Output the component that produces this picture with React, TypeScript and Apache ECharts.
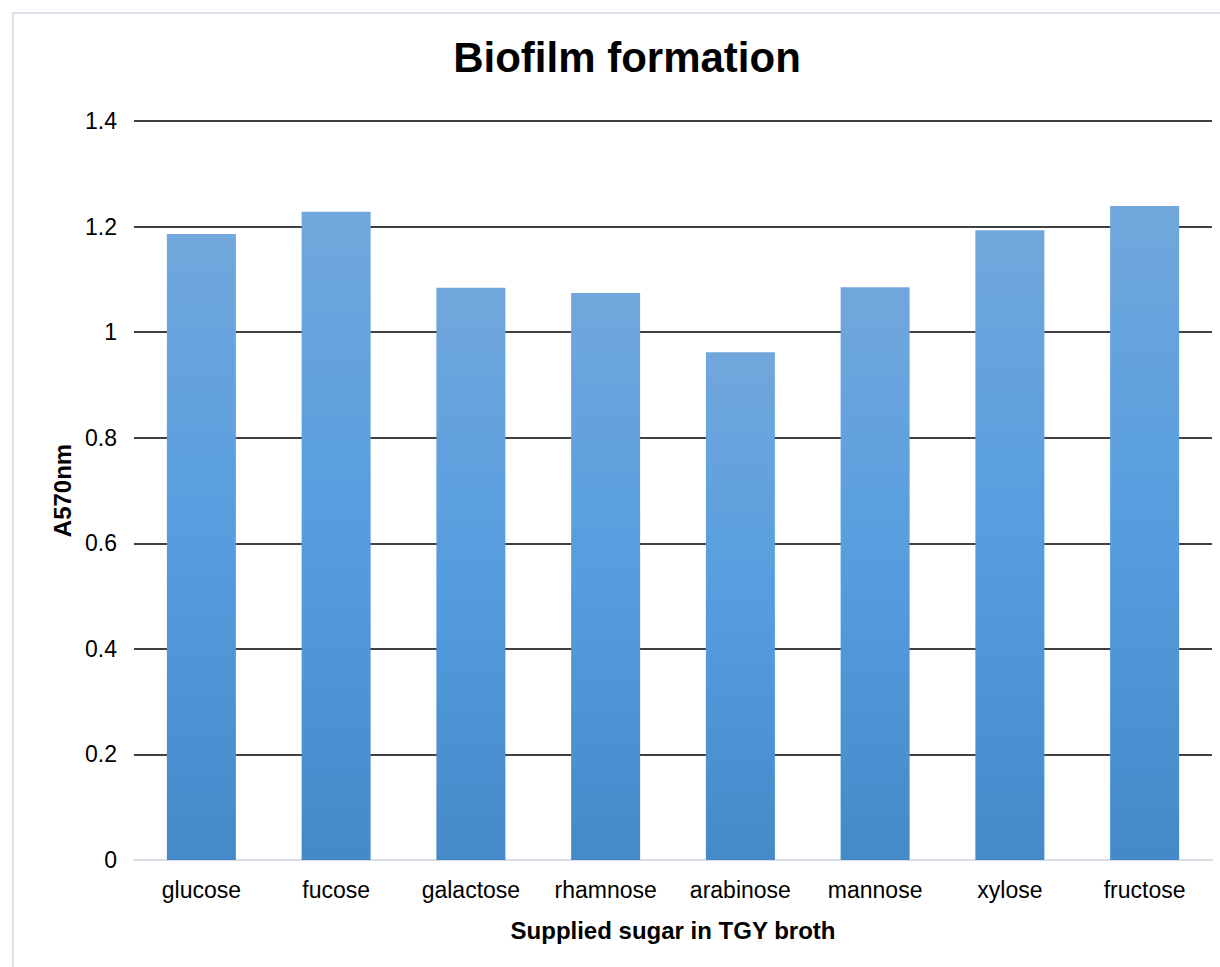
import React, { useEffect, useRef } from "react";
import * as echarts from "echarts";

const categories = ["glucose", "fucose", "galactose", "rhamnose", "arabinose", "mannose", "xylose", "fructose"];
const values = [1.186, 1.228, 1.084, 1.074, 0.962, 1.085, 1.193, 1.239];
const titleText = "Biofilm formation";
const xName = "Supplied sugar in TGY broth";
const yName = "A570nm";

export default function App() {
  const ref = useRef<HTMLDivElement>(null);
  useEffect(() => {
    if (!ref.current) return;
    const chart = echarts.init(ref.current, undefined, { renderer: "svg" });
    chart.setOption({
      animation: false,
      backgroundColor: "#ffffff",
      textStyle: { fontFamily: "'Liberation Sans', Arial, sans-serif" },
      title: {
        text: titleText,
        left: 622,
        top: 31,
        textAlign: "center",
        textStyle: { fontSize: 42, fontWeight: "bold", color: "#000", fontFamily: "'Liberation Sans', Arial, sans-serif" },
      },
      graphic: [
        {
          type: "rect",
          shape: { x: 13, y: 13, width: 1400, height: 1100 },
          style: { fill: "none", stroke: "#dde2ea", lineWidth: 2 },
          silent: true,
        },
      ],
      grid: { left: 134, right: 8, top: 121, bottom: 107, containLabel: false },
      xAxis: {
        type: "category",
        data: categories,
        name: xName,
        nameLocation: "middle",
        nameGap: 70,
        nameTextStyle: { fontSize: 24, fontWeight: "bold", color: "#000", verticalAlign: "middle" },
        axisLine: { show: true, lineStyle: { color: "#d9dde5", width: 2 } },
        axisTick: { show: false },
        axisLabel: { fontSize: 23, color: "#000", margin: 18 },
      },
      yAxis: {
        type: "value",
        min: 0,
        max: 1.4,
        interval: 0.2,
        name: yName,
        nameLocation: "middle",
        nameGap: 72,
        nameRotate: 90,
        nameTextStyle: { fontSize: 24, fontWeight: "bold", color: "#000", verticalAlign: "middle" },
        axisLine: { show: false },
        axisTick: { show: false },
        axisLabel: {
          fontSize: 23,
          color: "#000",
          margin: 17,
          formatter: (v: number) => String(Math.round(v * 10) / 10),
        },
        splitLine: { show: true, lineStyle: { color: "#000", width: 1.5 } },
      },
      series: [
        {
          type: "bar",
          data: values,
          barWidth: 69,
          itemStyle: {
            color: new echarts.graphic.LinearGradient(0, 0, 0, 1, [
              { offset: 0, color: "#71a7dc" },
              { offset: 0.5, color: "#559ddf" },
              { offset: 1, color: "#448ac9" },
            ]),
          },
        },
      ],
    });
    return () => chart.dispose();
  }, []);
  return <div ref={ref} style={{ position: "fixed", left: 0, top: 0, width: 1220, height: 967 }} />;
}
